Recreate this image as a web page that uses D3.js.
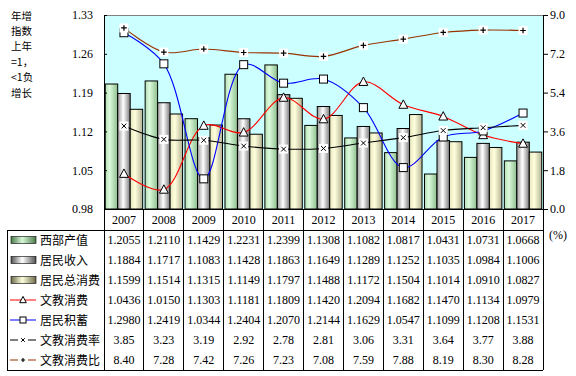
<!DOCTYPE html>
<html><head><meta charset="utf-8">
<script src="https://cdn.jsdelivr.net/npm/d3@7"></script>
<style>
html,body{margin:0;padding:0;background:#fff;}
svg{display:block;}
</style></head>
<body>
<svg id="chart" width="576" height="376"></svg>
<script>
const years = ["2007","2008","2009","2010","2011","2012","2013","2014","2015","2016","2017"];
const westOutput   = [1.2055,1.2110,1.1429,1.2231,1.2399,1.1308,1.1082,1.0817,1.0431,1.0731,1.0668];
const income       = [1.1884,1.1717,1.1083,1.1428,1.1863,1.1649,1.1289,1.1252,1.1035,1.0984,1.1006];
const consumption  = [1.1599,1.1514,1.1315,1.1149,1.1797,1.1488,1.1172,1.1504,1.1014,1.0910,1.0827];
const eduSpend     = [1.0436,1.0150,1.1303,1.1181,1.1809,1.1420,1.2094,1.1682,1.1470,1.1134,1.0979];
const savings      = [1.2980,1.2419,1.0344,1.2404,1.2070,1.2144,1.1629,1.0547,1.1099,1.1208,1.1531];
const eduRate      = [3.85,3.23,3.19,2.92,2.78,2.81,3.06,3.31,3.64,3.77,3.88];
const eduRatio     = [8.40,7.28,7.42,7.26,7.23,7.08,7.59,7.88,8.19,8.30,8.28];
const leftTicks  = [0.98,1.05,1.12,1.19,1.26,1.33];
const rightTicks = [0.0,1.8,3.6,5.4,7.2,9.0];
const yLabelLines = ["年增","指数","上年","=1，","<1负","增长"];
const seriesNames = ["西部产值","居民收入","居民总消费","文教消费","居民积蓄","文教消费率","文教消费比"];

const svg = d3.select("#chart");
const L = 104, R = 543, T = 15, B = 209;
const headerB = 230, rowH = 20, tableL = 7;
const serif = "'Liberation Serif','Times New Roman',serif";
const cjk = "'Noto Sans CJK SC','Noto Sans',sans-serif";

const x = d3.scaleBand().domain(years).range([L, R]).padding(0);
const xi = d3.scaleBand().domain([0,1,2]).range([0, x.bandwidth()]).paddingInner(0).paddingOuter(0.1);
const y = d3.scaleLinear().domain([0.98, 1.33]).range([B, T]);
const y2 = d3.scaleLinear().domain([0, 9]).range([B, T]);

// gradients
const defs = svg.append("defs");
function grad(id, stops){
  const g = defs.append("linearGradient").attr("id", id).attr("x1","0%").attr("x2","100%").attr("y1","0%").attr("y2","0%");
  stops.forEach(s => g.append("stop").attr("offset", s[0]).attr("stop-color", s[1]));
}
grad("gGreen", [["0%","#b4e0b4"],["35%","#dcfadc"],["100%","#8ebf8e"]]);
grad("gGray",  [["0%","#9a9a9a"],["45%","#ffffff"],["100%","#7c7c7c"]]);
grad("gYellow",[["0%","#e6e6bc"],["40%","#ffffde"],["100%","#b4b494"]]);
grad("lGreen", [["0%","#4a7a4a"],["45%","#d8f8d8"],["100%","#4a7a4a"]]);
grad("lGray",  [["0%","#505050"],["45%","#ffffff"],["100%","#505050"]]);
grad("lYellow",[["0%","#6a6a4a"],["45%","#ffffde"],["100%","#6a6a4a"]]);

// plot background
svg.append("rect").attr("x", L).attr("y", T).attr("width", R-L).attr("height", B-T).attr("fill", "#ccffff");
svg.append("line").attr("x1", L).attr("x2", R).attr("y1", T+0.5).attr("y2", T+0.5).attr("stroke", "#808080");

// bars
const barSeries = [westOutput, income, consumption];
const barFills = ["url(#gGreen)","url(#gGray)","url(#gYellow)"];
barSeries.forEach((vals, si) => {
  svg.append("g").selectAll("rect").data(vals).join("rect")
    .attr("x", (d,i) => x(years[i]) + xi(si))
    .attr("y", d => y(d))
    .attr("width", xi.bandwidth())
    .attr("height", d => B - y(d))
    .attr("fill", barFills[si])
    .attr("stroke", "#000").attr("stroke-width", 1);
});

// lines
const cx = i => x(years[i]) + x.bandwidth()/2;
const lineDefs = [
  {vals: eduSpend, sc: y, color: "#ff0000", marker: "tri"},
  {vals: savings, sc: y, color: "#0000ff", marker: "sq"},
  {vals: eduRate, sc: y2, color: "#000000", marker: "x"},
  {vals: eduRatio, sc: y2, color: "#993300", marker: "plus"}
];
lineDefs.forEach(ld => {
  const gen = d3.line().x((d,i) => cx(i)).y(d => ld.sc(d)).curve(d3.curveCatmullRom.alpha(0.5));
  svg.append("path").attr("d", gen(ld.vals)).attr("fill", "none").attr("stroke", ld.color).attr("stroke-width", 1.1);
});
function drawMarker(g, type, px, py, s){
  if (type === "tri") {
    g.append("path").attr("d", `M${px},${py-s*0.6}L${px+s*0.55},${py+s*0.45}L${px-s*0.55},${py+s*0.45}Z`)
      .attr("fill", "#fff").attr("stroke", "#000").attr("stroke-width", 1);
  } else if (type === "sq") {
    g.append("rect").attr("x", px-s/2).attr("y", py-s/2).attr("width", s).attr("height", s)
      .attr("fill", "#fff").attr("stroke", "#000").attr("stroke-width", 1);
  } else if (type === "x") {
    g.append("rect").attr("x", px-s/2-0.5).attr("y", py-s/2-0.5).attr("width", s+1).attr("height", s+1).attr("fill", "#fff");
    const h = s*0.3;
    g.append("path").attr("d", `M${px-h},${py-h}L${px+h},${py+h}M${px-h},${py+h}L${px+h},${py-h}`).attr("stroke", "#000").attr("stroke-width", 1);
  } else if (type === "plus") {
    g.append("rect").attr("x", px-s/2-0.5).attr("y", py-s/2-0.5).attr("width", s+1).attr("height", s+1).attr("fill", "#fff");
    const h = s*0.35;
    g.append("path").attr("d", `M${px-h},${py}L${px+h},${py}M${px},${py-h}L${px},${py+h}`).attr("stroke", "#000").attr("stroke-width", 1.2);
  }
}
const mg = svg.append("g");
lineDefs.forEach(ld => {
  ld.vals.forEach((v,i) => drawMarker(mg, ld.marker, cx(i), ld.sc(v), 8));
});

// axes
const axL = svg.append("g").attr("transform", `translate(${L},0)`)
  .call(d3.axisLeft(y).tickValues(leftTicks).tickFormat(d3.format(".2f")).tickSizeInner(-3).tickSizeOuter(0).tickPadding(11));
axL.select(".domain").attr("stroke", "#000");
axL.selectAll("text").attr("font-family", serif).attr("font-size", 12).attr("fill", "#000");
const axR = svg.append("g").attr("transform", `translate(${R},0)`)
  .call(d3.axisRight(y2).tickValues(rightTicks).tickFormat(d3.format(".1f")).tickSizeInner(5).tickSizeOuter(0).tickPadding(2));
axR.selectAll("text").attr("font-family", serif).attr("font-size", 12).attr("fill", "#000");
svg.append("line").attr("x1", L).attr("x2", R).attr("y1", B+0.5).attr("y2", B+0.5).attr("stroke", "#000");

// y label
svg.append("g").selectAll("text").data(yLabelLines).join("text")
  .attr("x", 11).attr("y", (d,i) => 19.5 + i*15.4)
  .attr("font-family", cjk).attr("font-size", 10.5).attr("fill", "#000")
  .text(d => d);

// table grid
const tableB = headerB + rowH*7;
const grid = svg.append("g").attr("stroke", "#000").attr("stroke-width", 1).attr("shape-rendering", "crispEdges");
years.forEach((yr,i) => {
  grid.append("line").attr("x1", x(yr)).attr("x2", x(yr)).attr("y1", B).attr("y2", tableB);
});
grid.append("line").attr("x1", R).attr("x2", R).attr("y1", B).attr("y2", tableB);
grid.append("line").attr("x1", tableL).attr("x2", tableL).attr("y1", headerB).attr("y2", tableB);
grid.append("line").attr("x1", tableL).attr("x2", R).attr("y1", headerB).attr("y2", headerB);
grid.append("line").attr("x1", tableL).attr("x2", R).attr("y1", tableB).attr("y2", tableB);

// header years
svg.append("g").selectAll("text").data(years).join("text")
  .attr("x", d => x(d) + x.bandwidth()/2).attr("y", (B+headerB)/2 + 4)
  .attr("text-anchor", "middle").attr("font-family", serif).attr("font-size", 12).attr("fill", "#000")
  .text(d => d);
svg.append("text").attr("x", 549).attr("y", 239).attr("font-family", serif).attr("font-size", 12).text("(%)");

// rows
const rowVals = [westOutput, income, consumption, eduSpend, savings, eduRate, eduRatio];
const rowFmt = [".4f",".4f",".4f",".4f",".4f",".2f",".2f"];
const legendFills = ["url(#lGreen)","url(#lGray)","url(#lYellow)"];
const lineColors = ["#ff0000","#0000ff","#000000","#993300"];
const lineMarkers = ["tri","sq","x","plus"];
rowVals.forEach((vals, r) => {
  const cy = headerB + rowH*r + rowH/2;
  const g = svg.append("g");
  if (r < 3) {
    g.append("rect").attr("x", 11).attr("y", cy-3.5).attr("width", 25).attr("height", 7)
      .attr("fill", legendFills[r]).attr("stroke", "#000").attr("stroke-width", 0.6);
  } else {
    const k = r - 3;
    g.append("line").attr("x1", 10).attr("x2", 36).attr("y1", cy).attr("y2", cy).attr("stroke", lineColors[k]).attr("stroke-width", 1);
    if (k >= 2) {
      g.append("rect").attr("x", 18).attr("y", cy-4).attr("width", 10).attr("height", 8).attr("fill", "#fff");
    }
    drawMarker(g, lineMarkers[k], 23, cy, 6);
  }
  g.append("text").attr("x", 40).attr("y", cy + 4.5).attr("font-family", cjk).attr("font-size", 12).attr("fill", "#000").text(seriesNames[r]);
  g.selectAll("text.v").data(vals).join("text").attr("class", "v")
    .attr("x", (d,i) => x(years[i]) + x.bandwidth()/2).attr("y", cy + 4)
    .attr("text-anchor", "middle").attr("font-family", serif).attr("font-size", 12).attr("fill", "#000")
    .text(d => d3.format(rowFmt[r])(d));
});
</script>
</body></html>
